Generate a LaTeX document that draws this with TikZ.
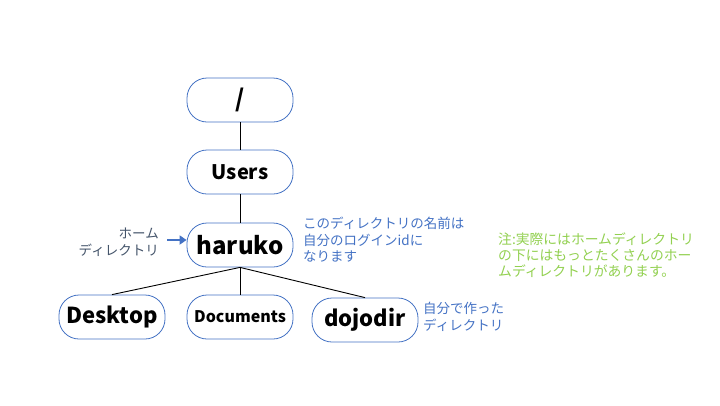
\documentclass[tikz,border=0pt]{standalone}
\usepackage{fontspec}
\setmainfont{Noto Sans CJK JP}
\usetikzlibrary{positioning,arrows.meta}
\definecolor{boxblue}{HTML}{4472C4}
\definecolor{navy}{HTML}{44546A}
\definecolor{notegreen}{HTML}{92D050}

\begin{document}
\begin{tikzpicture}[x=1pt,y=-1pt,node distance=72pt,on grid,
    dir/.style={draw=boxblue,line width=0.8pt,rounded corners=20pt,fill=white,
        minimum width=106pt,minimum height=44pt,inner sep=0pt},
    link/.style={line width=0.9pt},
    memo/.style={align=left,inner sep=0pt,text=boxblue,
        font=\fontsize{13.5}{16.5}\selectfont}]
    \useasboundingbox (0,0) rectangle (720,405);
    % directory tree
    \node[dir,font=\fontsize{24}{24}\selectfont\bfseries] (root) at (240,100) {/};
    \node[dir,font=\fontsize{20}{20}\selectfont\bfseries] (users) [below=of root] {Users};
    \node[dir,font=\fontsize{24}{24}\selectfont\bfseries] (haruko) [below=73pt of users] {haruko};
    \node[dir,font=\fontsize{22}{22}\selectfont\bfseries] (desktop) [below left=72pt and 128pt of haruko] {Desktop};
    \node[dir,font=\fontsize{16}{16}\selectfont\bfseries] (documents) [below=72pt of haruko] {Documents};
    \node[dir,font=\fontsize{22}{22}\selectfont\bfseries] (dojodir) [below right=75pt and 125pt of haruko] {dojodir};
    \draw[link] (root) -- (users);
    \draw[link] (users) -- (haruko);
    \draw[link] (haruko.south) -- (desktop.north);
    \draw[link] (haruko.south) -- (documents.north);
    \draw[link] (haruko.south) -- (dojodir.north);
    % notes
    \node[memo,align=right,anchor=east,text=navy] (home) at (159,242) {ホーム\\ディレクトリ};
    \coordinate (arrowtail) at (167,240);
    \draw[draw=boxblue,fill=boxblue,line width=2.5pt,-{Triangle[length=7pt,width=9pt]}] (arrowtail) -- (arrowtail -| haruko.west);
    \node[memo,anchor=north west] (loginnote) at (303,217) {このディレクトリの名前は\\自分のログインidに\\なります};
    \node[memo,anchor=north west] (madenote) at (423,302) {自分で作った\\ディレクトリ};
    \node[memo,anchor=north west,text=notegreen,font=\fontsize{13.8}{16}\selectfont] (caveat) at (498,233)
        {注:実際にはホームディレクトリ\\の下にはもっとたくさんのホー\\ムディレクトリがあります。};
\end{tikzpicture}
\end{document}
